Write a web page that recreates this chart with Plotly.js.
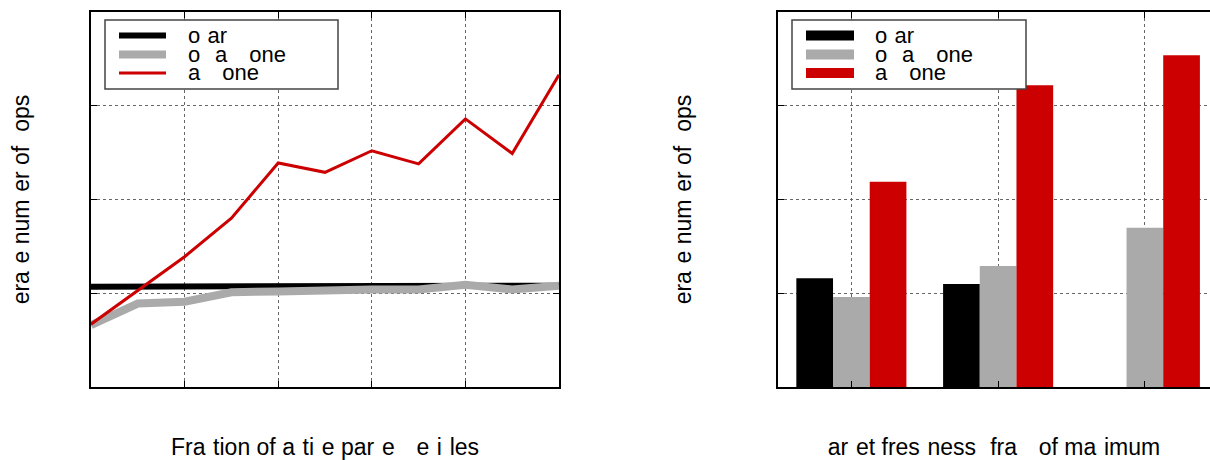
<!DOCTYPE html>
<html>
<head>
<meta charset="utf-8">
<script src="https://cdn.plot.ly/plotly-3.0.1.min.js"></script>
<style>
  html, body { margin: 0; padding: 0; background: #ffffff; overflow: hidden; }
  #chart { width: 1210px; height: 460px; }
</style>
</head>
<body>
<div id="chart"></div>
<script>
// ---------------- data ----------------
// left panel: x = fraction, y = value
const fractionX = [0, 0.1, 0.2, 0.3, 0.4, 0.5, 0.6, 0.7, 0.8, 0.9, 1.0];
const blackLine = [1.07, 1.07, 1.08, 1.08, 1.08, 1.08, 1.08, 1.08, 1.08, 1.08, 1.08];
const grayLine  = [0.66, 0.89, 0.91, 1.01, 1.02, 1.04, 1.04, 1.04, 1.09, 1.04, 1.08];
const redLine   = [0.67, 1.03, 1.39, 1.80, 2.39, 2.29, 2.52, 2.38, 2.86, 2.49, 3.33];

// right panel: three groups
const freshCats = [0, 1, 2];
const blackBars = [1.16, 1.10, 0];
const grayBars  = [0.96, 1.29, 1.70];
const redBars   = [2.19, 3.22, 3.54];

// names (as drawn)
const seriesNames = ["o\u2004ar", "o\u2004\u2004a\u2004\u2004\u2004one", "a\u2004\u2004\u2004one"];
const seriesColors = ["#000000", "#aaaaaa", "#cc0000"];
const lineWidths = [6, 8, 3];

const leftXTitle  = "Fra\u2004tion of a\u2004ti\u2004e par\u2004e\u2004 \u2004e\u2004i\u2004les";
const rightXTitle = "\u2004ar\u2004et fres\u2004ness \u2004fra\u2004\u2004 of ma\u2004imum\u2004";
const yTitle = "\u2004\u2004era\u2004e num\u2004er of \u2004ops";

// ---------------- layout helpers ----------------
const W = 1210, H = 460;
const M = {l: 0, r: 0, t: 12, b: 73};
const plotH = H - M.t - M.b;
const px = v => v / W;                       // paper x from pixel
const py = v => (H - M.b - v) / plotH;       // paper y from pixel

const FONT = "Liberation Sans, Arial, sans-serif";

const traces = [
  {x: fractionX, y: blackLine, type: "scatter", mode: "lines", xaxis: "x", yaxis: "y",
   line: {color: seriesColors[0], width: lineWidths[0]}, name: seriesNames[0], showlegend: false},
  {x: fractionX, y: grayLine, type: "scatter", mode: "lines", xaxis: "x", yaxis: "y",
   line: {color: seriesColors[1], width: lineWidths[1]}, name: seriesNames[1], showlegend: false},
  {x: fractionX, y: redLine, type: "scatter", mode: "lines", xaxis: "x", yaxis: "y",
   line: {color: seriesColors[2], width: lineWidths[2]}, name: seriesNames[2], showlegend: false},
  {x: freshCats, y: blackBars, type: "bar", xaxis: "x2", yaxis: "y2",
   marker: {color: seriesColors[0], line: {width: 0}}, name: seriesNames[0], showlegend: false},
  {x: freshCats, y: grayBars, type: "bar", xaxis: "x2", yaxis: "y2",
   marker: {color: seriesColors[1], line: {width: 0}}, name: seriesNames[1], showlegend: false},
  {x: freshCats, y: redBars, type: "bar", xaxis: "x2", yaxis: "y2",
   marker: {color: seriesColors[2], line: {width: 0}}, name: seriesNames[2], showlegend: false}
];

const axisCommon = {
  showline: true, linecolor: "#000", linewidth: 2,
  ticks: "inside", ticklen: 6, tickwidth: 1, tickcolor: "#000",
  showticklabels: false, zeroline: false,
  showgrid: true, gridcolor: "#666", griddash: "dot", gridwidth: 1
};

const shapes = [];
const annotations = [];

// legend boxes
const legends = [
  {box: [105, 338], swatch: [119, 166], textX: 186, kind: "line"},
  {box: [792, 1026], swatch: [806, 854], textX: 873, kind: "rect"}
];
const rowY = [35.5, 54.5, 73];
legends.forEach(L => {
  shapes.push({type: "rect", xref: "paper", yref: "paper",
    x0: px(L.box[0]), x1: px(L.box[1]), y0: py(89), y1: py(20),
    line: {color: "#444", width: 1.5}, fillcolor: "#ffffff", layer: "above"});
  seriesNames.forEach((n, i) => {
    if (L.kind === "line") {
      shapes.push({type: "line", xref: "paper", yref: "paper",
        x0: px(L.swatch[0]), x1: px(L.swatch[1]), y0: py(rowY[i]), y1: py(rowY[i]),
        line: {color: seriesColors[i], width: lineWidths[i]}, layer: "above"});
    } else {
      shapes.push({type: "rect", xref: "paper", yref: "paper",
        x0: px(L.swatch[0]), x1: px(L.swatch[1]), y0: py(rowY[i] + 5), y1: py(rowY[i] - 5),
        line: {width: 0}, fillcolor: seriesColors[i], layer: "above"});
    }
    annotations.push({xref: "paper", yref: "paper", x: px(L.textX), y: py(rowY[i]),
      xanchor: "left", yanchor: "middle", showarrow: false, text: n,
      font: {family: FONT, size: 22, color: "#000"}});
  });
});

const layout = {
  width: W, height: H, margin: M,
  paper_bgcolor: "#ffffff", plot_bgcolor: "#ffffff",
  showlegend: false,
  font: {family: FONT, size: 22, color: "#000"},
  barmode: "group", bargap: 0.25, bargroupgap: 0,
  xaxis: Object.assign({}, axisCommon, {
    domain: [px(91), px(559)], range: [0, 1], tickvals: [0, 0.2, 0.4, 0.6, 0.8, 1],
    mirror: "ticks", anchor: "y",
    title: {text: leftXTitle, font: {family: FONT, size: 23, color: "#000"}, standoff: 51}
  }),
  yaxis: Object.assign({}, axisCommon, {
    domain: [0, 1], range: [0, 4], tickvals: [0, 1, 2, 3, 4], mirror: "ticks", anchor: "x",
    title: {text: yTitle, font: {family: FONT, size: 23, color: "#000"}, standoff: 53}
  }),
  xaxis2: Object.assign({}, axisCommon, {
    domain: [px(778), 1], range: [-0.5, -0.5 + (W - 778) / 146.75], tickvals: freshCats,
    mirror: "ticks", anchor: "y2",
    title: {text: rightXTitle, font: {family: FONT, size: 23, color: "#000"}, standoff: 51}
  }),
  yaxis2: Object.assign({}, axisCommon, {
    domain: [0, 1], range: [0, 4], tickvals: [0, 1, 2, 3, 4], mirror: false, anchor: "x2",
    title: {text: yTitle, font: {family: FONT, size: 23, color: "#000"}, standoff: 78}
  }),
  shapes: shapes,
  annotations: annotations
};

Plotly.newPlot("chart", traces, layout, {displayModeBar: false, staticPlot: true});
</script>
</body>
</html>
